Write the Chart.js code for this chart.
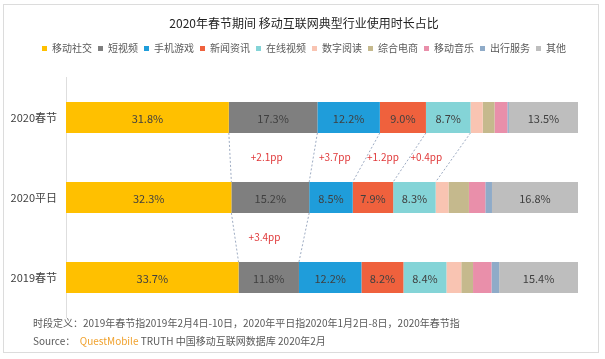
<!DOCTYPE html>
<html><head><meta charset="utf-8">
<script src="https://cdn.jsdelivr.net/npm/chart.js@4.4.1/dist/chart.umd.min.js"></script>
<style>
html,body{margin:0;padding:0;background:#fff;}
#wrap{position:relative;width:605px;height:359px;overflow:hidden;background:#fff;}
#frame{position:absolute;left:3px;top:4px;width:596px;height:349px;border:1px solid #dcdcdc;box-sizing:border-box;}
canvas{position:absolute;left:0;top:0;}
.note{position:absolute;left:33px;font-family:"Noto Sans CJK SC","Noto Sans",sans-serif;font-size:10px;line-height:14px;color:#595959;white-space:nowrap;}
</style></head><body>
<div id="wrap">
<div id="frame"></div>
<canvas id="c" width="605" height="359"></canvas>
<div class="note" style="top:316px">时段定义：2019年春节指2019年2月4日-10日，2020年平日指2020年1月2日-8日，2020年春节指</div>
<div class="note" style="top:334px">Source：&nbsp;&nbsp;<span style="color:#F0A22E">QuestMobile</span> TRUTH 中国移动互联网数据库 2020年2月</div>
</div>
<script>
const FONT = '"Noto Sans CJK SC", "Noto Sans", sans-serif';
const titleText = '2020年春节期间 移动互联网典型行业使用时长占比';
const categories = ['2020春节', '2020平日', '2019春节'];
const seriesNames = ['移动社交', '短视频', '手机游戏', '新闻资讯', '在线视频', '数字阅读', '综合电商', '移动音乐', '出行服务', '其他'];
const social      = [31.8, 32.3, 33.7];
const shortVideo  = [17.3, 15.2, 11.8];
const mobileGame  = [12.2, 8.5, 12.2];
const news        = [9.0, 7.9, 8.2];
const onlineVideo = [8.7, 8.3, 8.4];
const reading     = [2.4, 2.5, 2.9];
const ecommerce   = [2.3, 4.0, 2.3];
const music       = [2.5, 3.2, 3.6];
const travel      = [0.3, 1.3, 1.5];
const other       = [13.5, 16.8, 15.4];
const seriesValues = [social, shortVideo, mobileGame, news, onlineVideo, reading, ecommerce, music, travel, other];
const colors = ['#FFC000', '#7F7F7F', '#1F9DDA', '#EF613D', '#84D4D7', '#F9C4B2', '#C5B98D', '#E98FAA', '#8FABC8', '#BEBEBE'];
const labelledSeries = [0, 1, 2, 3, 4, 9];
// change annotations: series index, upper row, text
const changeSeries = [1, 2, 3, 4, 1];
const changeUpperRow = [0, 0, 0, 0, 1];
const changeText = ['+2.1pp', '+3.7pp', '+1.2pp', '+0.4pp', '+3.4pp'];
// dashed connectors: number of leading series linked between rows 0-1 and 1-2
const linkCount = [5, 2];

const datasets = seriesNames.map((n, i) => ({
  label: n, data: seriesValues[i], backgroundColor: colors[i], borderWidth: 0,
  barPercentage: 0.3875, categoryPercentage: 1
}));

const legendSpacer = {
  id: 'legendSpacer',
  beforeInit(chart) {
    if (!chart.legend) return;
    const fit = chart.legend.fit;
    chart.legend.fit = function () { fit.call(this); this.height += 14; };
  }
};

const overlay = {
  id: 'overlay',
  afterDatasetsDraw(chart) {
    const ctx = chart.ctx;
    ctx.save();
    ctx.strokeStyle = 'rgba(110,130,165,0.85)';
    ctx.lineWidth = 0.8;
    ctx.setLineDash([2, 2]);
    linkCount.forEach((cnt, r) => {
      for (let s = 0; s < cnt; s++) {
        const a = chart.getDatasetMeta(s).data[r];
        const b = chart.getDatasetMeta(s).data[r + 1];
        ctx.beginPath();
        ctx.moveTo(a.x, a.y + a.height / 2);
        ctx.lineTo(b.x, b.y - b.height / 2);
        ctx.stroke();
      }
    });
    ctx.setLineDash([]);
    ctx.font = '11px ' + FONT;
    ctx.fillStyle = '#404040';
    ctx.textAlign = 'center';
    ctx.textBaseline = 'middle';
    labelledSeries.forEach(s => {
      chart.getDatasetMeta(s).data.forEach((el, j) => {
        ctx.fillText(seriesValues[s][j].toFixed(1) + '%', (el.x + el.base) / 2, el.y + 1);
      });
    });
    ctx.font = '10px ' + FONT;
    ctx.fillStyle = '#E0393A';
    changeText.forEach((t, k) => {
      const s = changeSeries[k], r = changeUpperRow[k];
      const a = chart.getDatasetMeta(s).data[r];
      const b = chart.getDatasetMeta(s).data[r + 1];
      const cx = ((a.x + a.base) / 2 + (b.x + b.base) / 2) / 2 - 5;
      const cy = ((a.y + a.height / 2) + (b.y - b.height / 2)) / 2;
      ctx.fillText(t, cx, cy);
    });
    ctx.restore();
  }
};

new Chart(document.getElementById('c'), {
  type: 'bar',
  data: { labels: categories, datasets },
  plugins: [legendSpacer, overlay],
  options: {
    indexAxis: 'y', responsive: false, animation: false,
    layout: { padding: { left: 3, right: 0, top: 0, bottom: 41.5 } },
    scales: {
      x: { stacked: true, min: 0, max: 100, display: false },
      y: {
        stacked: true,
        grid: { display: false, drawTicks: false },
        border: { display: true, color: '#dedede' },
        ticks: { padding: 9, color: '#404040', font: { size: 11, family: FONT } },
        afterFit(s) { s.width = 63; }
      },
      yRight: {
        type: 'category', position: 'right', display: true,
        grid: { display: false, drawTicks: false },
        border: { display: false },
        ticks: { display: false },
        afterFit(s) { s.width = 27; }
      }
    },
    plugins: {
      title: { display: true, text: titleText, color: '#1f1f1f', font: { size: 12, weight: 'normal', family: FONT }, padding: { top: 16, bottom: 7 } },
      legend: { labels: { boxWidth: 5, boxHeight: 5, padding: 6, color: '#595959', font: { size: 10, family: FONT } } },
      tooltip: { enabled: false }
    }
  }
});
</script>
</body></html>
